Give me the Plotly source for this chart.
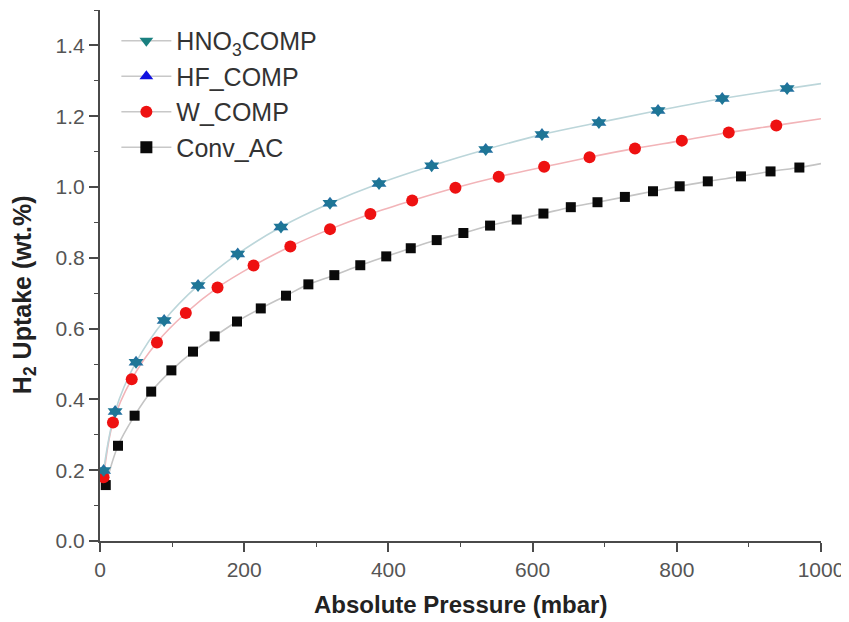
import plotly.graph_objects as go

# ---- data ----
hno3_x = [5, 21, 50, 89, 136, 191, 251, 319, 387, 460, 535, 613, 692, 774, 863, 953]
hno3_y = [0.199, 0.366, 0.505, 0.623, 0.722, 0.811, 0.887, 0.954, 1.010, 1.060, 1.106, 1.148, 1.182, 1.216, 1.250, 1.278]
hno3_end = 1.292

hf_x = hno3_x
hf_y = hno3_y

w_x = [5, 18, 44, 79, 119, 163, 213, 264, 319, 375, 433, 493, 553, 616, 679, 742, 807, 872, 938]
w_y = [0.180, 0.335, 0.457, 0.561, 0.644, 0.716, 0.778, 0.832, 0.881, 0.924, 0.962, 0.998, 1.029, 1.057, 1.084, 1.109, 1.131, 1.154, 1.174]
w_end = 1.193

conv_x = [8, 25, 48, 71, 99, 129, 159, 190, 223, 258, 289, 325, 361, 397, 431, 467, 504, 541, 578, 615,
          653, 690, 728, 767, 804, 843, 889, 930, 970]
conv_y = [0.158, 0.269, 0.354, 0.422, 0.482, 0.535, 0.578, 0.620, 0.657, 0.693, 0.725, 0.751, 0.779, 0.804,
          0.827, 0.850, 0.870, 0.891, 0.908, 0.925, 0.943, 0.957, 0.972, 0.988, 1.002, 1.016, 1.030, 1.044, 1.055]
conv_end = 1.066

x_end = 1000

x_ticks = [0, 200, 400, 600, 800, 1000]
y_ticks = [0.0, 0.2, 0.4, 0.6, 0.8, 1.0, 1.2, 1.4]

names = ["HNO<sub>3</sub>COMP", "HF_COMP", "W_COMP", "Conv_AC"]
x_title = "<b>Absolute Pressure (mbar)</b>"
y_title = "<b>H<sub>2</sub> Uptake (wt.%)</b>"

FONT = "Arial, Liberation Sans, sans-serif"

fig = go.Figure()

# fitted lines (extend to right edge)
fig.add_trace(go.Scatter(x=conv_x + [x_end], y=conv_y + [conv_end], mode="lines",
                         line=dict(color="#c4c4c4", width=1.6, shape="spline"), showlegend=False, hoverinfo="skip"))
fig.add_trace(go.Scatter(x=w_x + [x_end], y=w_y + [w_end], mode="lines",
                         line=dict(color="#f2b4b8", width=1.6, shape="spline"), showlegend=False, hoverinfo="skip"))
fig.add_trace(go.Scatter(x=hno3_x + [x_end], y=hno3_y + [hno3_end], mode="lines",
                         line=dict(color="#bcd6da", width=1.6, shape="spline"), showlegend=False, hoverinfo="skip"))

# markers
fig.add_trace(go.Scatter(x=conv_x, y=conv_y, mode="markers", showlegend=False,
                         marker=dict(symbol="square", size=10, color="#0a0a0a")))
fig.add_trace(go.Scatter(x=w_x, y=w_y, mode="markers", showlegend=False,
                         marker=dict(symbol="circle", size=12, color="#ee1111")))
fig.add_trace(go.Scatter(x=hf_x, y=hf_y, mode="markers", showlegend=False,
                         marker=dict(symbol="triangle-up", size=13, color="#2370a0")))
fig.add_trace(go.Scatter(x=hno3_x, y=hno3_y, mode="markers", showlegend=False,
                         marker=dict(symbol="triangle-down", size=13, color="#1e7696")))

# legend-only entries
leg = [
    (names[0], "triangle-down", "#1a8080"),
    (names[1], "triangle-up", "#1010e0"),
    (names[2], "circle", "#ee1111"),
    (names[3], "square", "#0a0a0a"),
]
for nm, sym, col in leg:
    fig.add_trace(go.Scatter(x=[None], y=[None], mode="lines+markers", name=nm,
                             line=dict(color="#c8c8c8", width=1.6),
                             marker=dict(symbol=sym, size=12, color=col)))

axis_common = dict(
    showline=True, linecolor="#4a4a4a", linewidth=2,
    ticks="outside", ticklen=9, tickwidth=1.5, tickcolor="#4a4a4a",
    showgrid=False, zeroline=False, mirror=False, automargin=False,
    tickfont=dict(family=FONT, size=21, color="#555555"),
)

fig.update_layout(
    width=849, height=622,
    plot_bgcolor="white", paper_bgcolor="white",
    margin=dict(l=92, r=36, t=2, b=89),
    xaxis=dict(range=[0, 1000], tickvals=x_ticks,
               minor=dict(dtick=100, ticks="outside", ticklen=4, tickcolor="#4a4a4a", tickwidth=1.3),
               **axis_common),
    yaxis=dict(range=[0, 1.5], tickvals=y_ticks, tickformat=".1f",
               minor=dict(dtick=0.1, ticks="outside", ticklen=4, tickcolor="#4a4a4a", tickwidth=1.3),
               **axis_common),
    legend=dict(x=0.0227, y=0.985, xanchor="left", yanchor="top", bgcolor="rgba(0,0,0,0)",
                font=dict(family=FONT, size=25, color="#333333"),
                itemwidth=50, tracegroupgap=0),
    showlegend=True,
    annotations=[
        dict(text=x_title, xref="paper", yref="paper", x=0.5, y=-0.1205,
             xanchor="center", yanchor="middle", showarrow=False,
             font=dict(family=FONT, size=24, color="#222222")),
        dict(text=y_title, xref="paper", yref="paper", x=-0.1054, y=0.463, textangle=-90,
             xanchor="center", yanchor="middle", showarrow=False,
             font=dict(family=FONT, size=25, color="#222222")),
    ],
)

fig.write_html("out.html")
